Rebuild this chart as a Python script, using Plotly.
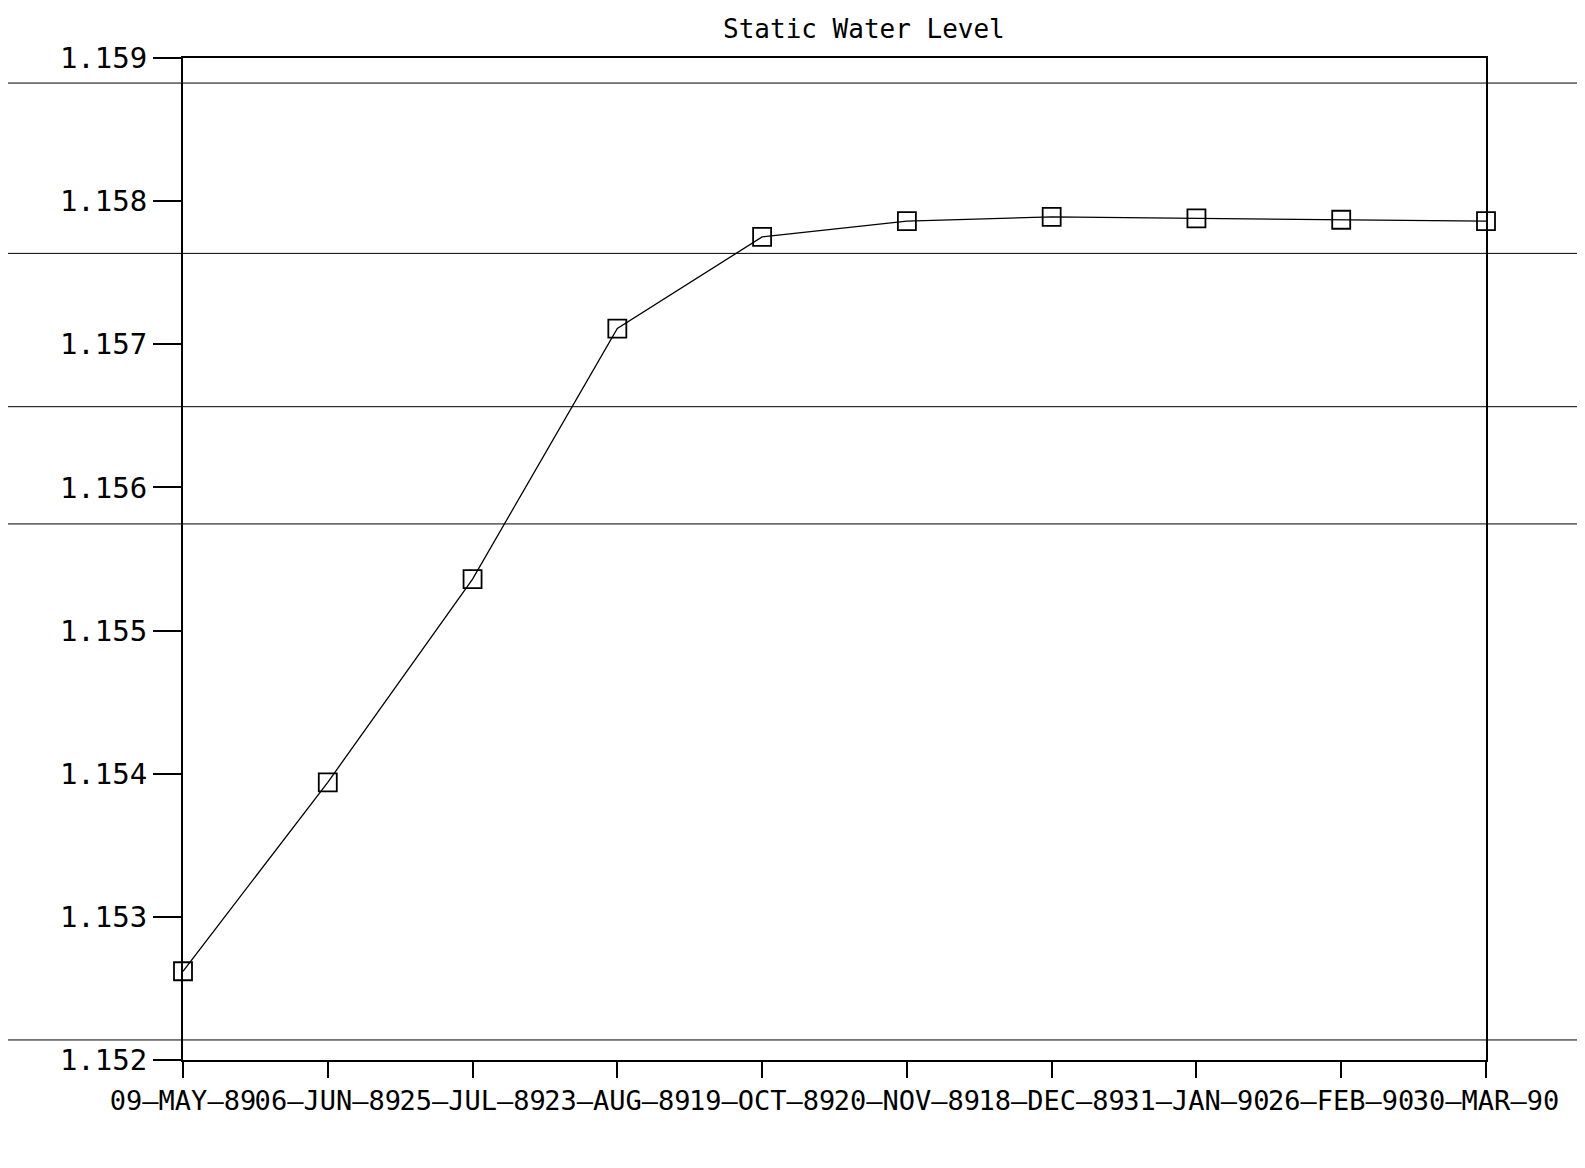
import plotly.graph_objects as go

dates = ["09\u2014MAY\u201489", "06\u2014JUN\u201489", "25\u2014JUL\u201489", "23\u2014AUG\u201489",
         "19\u2014OCT\u201489", "20\u2014NOV\u201489", "18\u2014DEC\u201489", "31\u2014JAN\u201490",
         "26\u2014FEB\u201490", "30\u2014MAR\u201490"]
level = [1.15262, 1.15394, 1.15536, 1.15711, 1.15775, 1.15786, 1.15789, 1.15788, 1.15787, 1.15786]
y_ticks = [1.152, 1.153, 1.154, 1.155, 1.156, 1.157, 1.158, 1.159]

idx = list(range(len(dates)))

fig = go.Figure()
fig.add_trace(go.Scatter(
    x=idx, y=level, mode="lines+markers", cliponaxis=False,
    line=dict(color="black", width=1.3),
    marker=dict(symbol="square-open", size=18, color="black", line=dict(width=1.8)),
))

# scan artefact rules across the page
for yp in [0.975, 0.805, 0.652, 0.535, 0.02]:
    fig.add_shape(type="line", xref="paper", yref="paper", x0=-0.2, x1=1.2, y0=yp, y1=yp,
                  line=dict(color="black", width=1))

fig.update_layout(
    width=1585, height=1168,
    margin=dict(l=175, r=107, t=50, b=116),
    paper_bgcolor="white", plot_bgcolor="white",
    showlegend=False,
    title=dict(text="Static Water Level", x=0.54, xanchor="center", y=0.99, yanchor="top",
               font=dict(family="DejaVu Sans Mono", size=26, color="black")),
    font=dict(family="DejaVu Sans Mono", color="black"),
)
fig.update_xaxes(
    range=[0, 9], tickmode="array", tickvals=idx, ticktext=dates, tickangle=0,
    showgrid=False, zeroline=False, showline=True, linecolor="black", linewidth=2, mirror=True,
    ticks="outside", ticklen=16, tickwidth=2, tickcolor="black",
    tickfont=dict(family="DejaVu Sans Mono", size=27, color="black"),
)
fig.update_yaxes(
    range=[1.152, 1.159], tickmode="array", tickvals=y_ticks, tickformat=".3f",
    showgrid=False, zeroline=False, showline=True, linecolor="black", linewidth=2, mirror=True,
    ticks="outside", ticklen=28, tickwidth=2, tickcolor="black",
    tickfont=dict(family="DejaVu Sans Mono", size=29, color="black"),
)

fig.write_html("out.html")
